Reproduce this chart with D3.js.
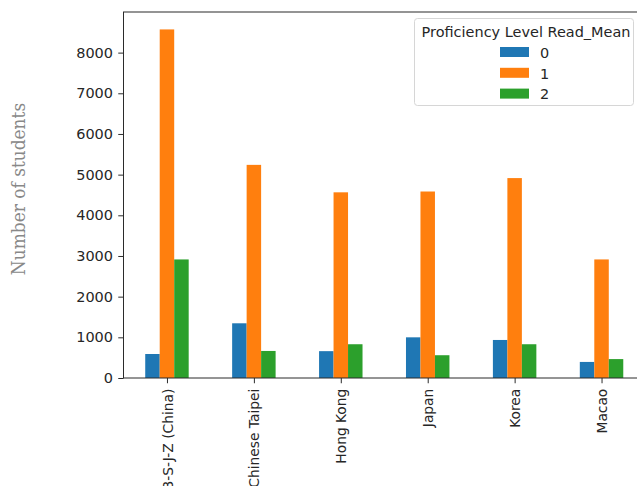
<!DOCTYPE html>
<html>
<head>
<meta charset="utf-8">
<script src="https://cdn.jsdelivr.net/npm/d3@7"></script>
<style>
  html, body { margin: 0; padding: 0; background: #fff; overflow: hidden; }
  svg { display: block; }
</style>
</head>
<body>
<svg id="chart" width="637" height="486"></svg>
<script>
// Students per proficiency level, by economy
const countries = ["B-S-J-Z (China)", "Chinese Taipei", "Hong Kong", "Japan", "Korea", "Macao"];
const levels = ["0", "1", "2"];
const level0 = [590, 1345, 660, 1000, 935, 395];
const level1 = [8570, 5240, 4565, 4585, 4915, 2915];
const level2 = [2915, 665, 830, 560, 830, 465];
const yTicks = [0, 1000, 2000, 3000, 4000, 5000, 6000, 7000, 8000];
const colors = ["#1f77b4", "#ff7f0e", "#2ca02c"];

const seriesValues = [level0, level1, level2];
const rows = countries.map((c, i) => ({ country: c, values: seriesValues.map(s => s[i]) }));

const svg = d3.select("#chart");
const plot = { left: 123.5, right: 645, top: 12, bottom: 378 };
const sx = 1.08, sy = 1.03;   // lettering is slightly wider than tall
const fontSans = "'DejaVu Sans', sans-serif";
const fontSize = "13.4px";
const textColor = "#262626";
const axisColor = "#2b2b2b";

const maxVal = d3.max(seriesValues.flat());
const y = d3.scaleLinear().domain([0, maxVal * 1.05]).range([plot.bottom, plot.top]);

// categories sit at integer positions, axis spans -0.5 .. n-0.5
const x = d3.scaleLinear().domain([-0.5, countries.length - 0.5]).range([plot.left, plot.right]);
const unit = x(1) - x(0);
const barW = unit * 0.5 / levels.length;

const g = svg.append("g");

// bars
rows.forEach((r, i) => {
  r.values.forEach((v, k) => {
    g.append("rect")
      .attr("x", x(i) - unit * 0.25 + k * barW)
      .attr("y", y(v))
      .attr("width", barW)
      .attr("height", y(0) - y(v))
      .attr("fill", colors[k]);
  });
});

// y axis
const yAxis = svg.append("g")
  .attr("transform", `translate(${plot.left},0)`)
  .call(d3.axisLeft(y).tickValues(yTicks).tickSize(5.25).tickPadding(4.5).tickFormat(d3.format("d")));
yAxis.select(".domain").remove();
yAxis.selectAll(".tick line").attr("stroke", axisColor).attr("stroke-width", 1);
yAxis.selectAll(".tick text").attr("fill", textColor)
  .attr("transform", `scale(${sx},${sy})`)
  .style("font-family", fontSans).style("font-size", fontSize);

// x axis
const xAxis = svg.append("g")
  .attr("transform", `translate(0,${plot.bottom})`)
  .call(d3.axisBottom(x).tickValues(d3.range(countries.length)).tickSize(5.25).tickPadding(5)
    .tickFormat(i => countries[i]));
xAxis.select(".domain").remove();
xAxis.selectAll(".tick line").attr("stroke", axisColor).attr("stroke-width", 1);
xAxis.selectAll(".tick text")
  .attr("fill", textColor)
  .style("font-family", fontSans).style("font-size", fontSize)
  .attr("text-anchor", "end")
  .attr("dy", null)
  .attr("transform", `scale(${sx},${sy}) rotate(-90)`)
  .attr("x", -10.4)
  .attr("y", 0)
  .attr("dominant-baseline", "central");

// frame
svg.append("rect")
  .attr("x", plot.left).attr("y", plot.top)
  .attr("width", plot.right - plot.left).attr("height", plot.bottom - plot.top)
  .attr("fill", "none").attr("stroke", axisColor).attr("stroke-width", 1);

// y label
svg.append("text")
  .attr("transform", `translate(19,189) scale(${sx},1) rotate(-90)`)
  .attr("text-anchor", "middle")
  .attr("dominant-baseline", "central")
  .attr("fill", "#888888")
  .style("font-family", "'DejaVu Serif', serif")
  .style("font-size", "17px")
  .text("Number of students");

// legend
const lg = svg.append("g");
lg.append("rect")
  .attr("x", 414.5).attr("y", 18.5).attr("width", 219).attr("height", 87).attr("rx", 3)
  .attr("fill", "#fff").attr("fill-opacity", 0.8).attr("stroke", "#d6d6d6");
lg.append("text")
  .attr("transform", `translate(526,32) scale(${sx},${sy})`)
  .attr("text-anchor", "middle").attr("dominant-baseline", "central")
  .attr("fill", textColor).style("font-family", fontSans).style("font-size", fontSize)
  .text("Proficiency Level Read_Mean");
levels.forEach((lv, k) => {
  const cy = 52 + k * 20.8;
  lg.append("rect").attr("x", 500).attr("y", cy - 5).attr("width", 29).attr("height", 10)
    .attr("fill", colors[k]);
  lg.append("text")
    .attr("transform", `translate(540,${cy + 1}) scale(${sx},${sy})`)
    .attr("dominant-baseline", "central")
    .attr("fill", textColor).style("font-family", fontSans).style("font-size", fontSize)
    .text(lv);
});
</script>
</body>
</html>
